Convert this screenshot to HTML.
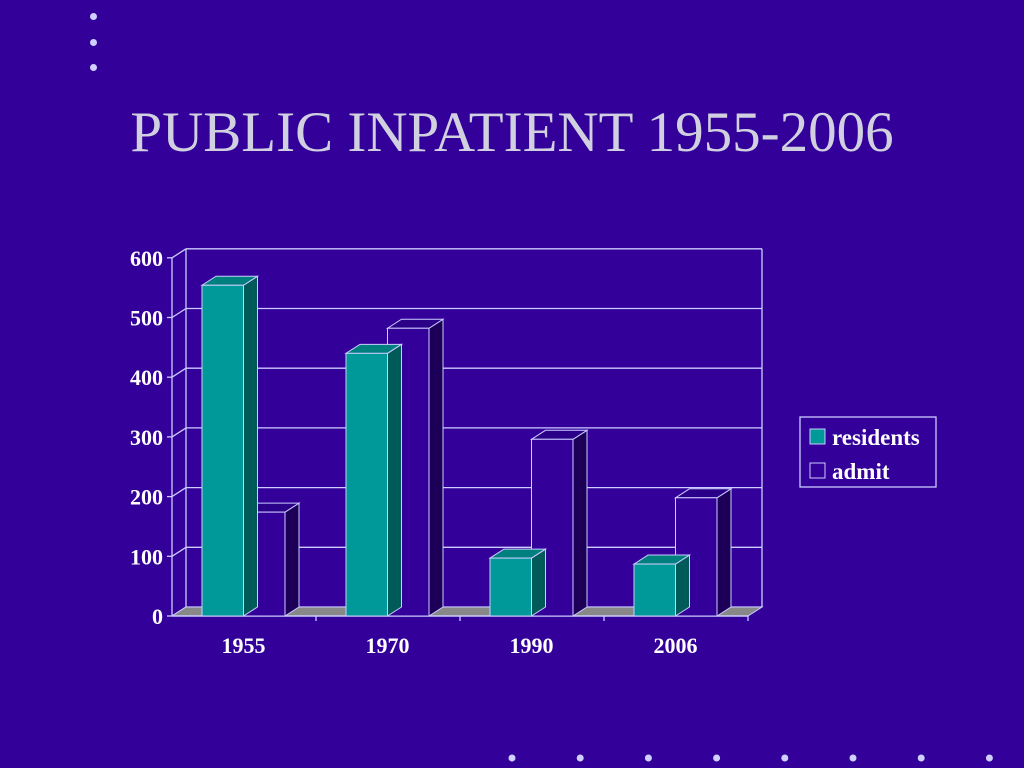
<!DOCTYPE html>
<html><head><meta charset="utf-8">
<style>
html,body{margin:0;padding:0;background:#330099;}
body{width:1024px;height:768px;overflow:hidden;position:relative;font-family:"Liberation Serif",serif;}
#title{position:absolute;left:0;width:1024px;top:100px;text-align:center;font-size:57px;line-height:66px;color:#d0d0e0;}
.dot{position:absolute;width:7px;height:7px;border-radius:50%;background:#d0d0ff;}
</style></head>
<body>
<div class="dot" style="left:90px;top:13px"></div>
<div class="dot" style="left:90px;top:39px"></div>
<div class="dot" style="left:90px;top:64px"></div>
<div id="title">PUBLIC INPATIENT 1955-2006</div>
<svg id="chart" width="1024" height="768" style="position:absolute;left:0;top:0" xmlns="http://www.w3.org/2000/svg"></svg>
<script>
const categories=["1955","1970","1990","2006"];
const residents=[554,440,97,87];
const admit=[174,482,296,198];
const ticks=[0,100,200,300,400,500,600];
const seriesNames=["residents","admit"];

const NS="http://www.w3.org/2000/svg";
const svg=document.getElementById('chart');
const X0=172,X1=748,Y0=616,DX=14,DY=-9,PER=0.597;
function y(v){return Y0-v*PER;}
function catX(i){return X0+30+i*144;}
const BW=41.5;
function el(tag,attrs,parent){const e=document.createElementNS(NS,tag);for(const k in attrs)e.setAttribute(k,attrs[k]);(parent||svg).appendChild(e);return e;}
const line="#ccccff";
ticks.forEach(t=>{
  const g=el('g',{});
  
  
  el('line',{x1:X0+DX,y1:y(t)+DY,x2:X1+DX,y2:y(t)+DY,stroke:line,'stroke-width':1.3},g);
  el('line',{x1:X0,y1:y(t),x2:X0+DX,y2:y(t)+DY,stroke:line,'stroke-width':1.3},g);
  el('line',{x1:X0-5,y1:y(t),x2:X0,y2:y(t),stroke:line,'stroke-width':1.3},g);
  const tx=el('text',{x:X0-9,y:y(t)+8,'text-anchor':'end','font-size':22,'font-weight':'bold',fill:'#fff','font-family':'Liberation Serif, serif'},g);
  tx.textContent=t;
});
el('line',{x1:X0+DX,y1:y(600)+DY,x2:X0+DX,y2:Y0+DY,stroke:line,'stroke-width':1.3});
el('line',{x1:X1+DX,y1:y(600)+DY,x2:X1+DX,y2:Y0+DY,stroke:line,'stroke-width':1.3});
el('line',{x1:X0,y1:y(600),x2:X0,y2:Y0,stroke:line,'stroke-width':1.3});
const fl=el('polygon',{points:`${X0},${Y0} ${X1},${Y0} ${X1+DX},${Y0+DY} ${X0+DX},${Y0+DY}`,fill:'#888888',stroke:line,'stroke-width':1});


el('line',{x1:X0,y1:Y0,x2:X1,y2:Y0,stroke:line,'stroke-width':1.5});
function bar(x,v,face,side,top,name){
  const g=el('g',{});
  
  
  const yt=y(v);
  el('polygon',{points:`${x+BW},${yt} ${x+BW+DX},${yt+DY} ${x+BW+DX},${Y0+DY} ${x+BW},${Y0}`,fill:side,stroke:line,'stroke-width':1},g);
  el('polygon',{points:`${x},${yt} ${x+DX},${yt+DY} ${x+BW+DX},${yt+DY} ${x+BW},${yt}`,fill:top,stroke:line,'stroke-width':1},g);
  el('rect',{x:x,y:yt,width:BW,height:Y0-yt,fill:face,stroke:line,'stroke-width':1},g);
}
categories.forEach((c,i)=>{
  const x=catX(i);
  bar(x+BW,admit[i],'#330099','#1c0058','#2a0088','bar-admit-'+c);
  bar(x,residents[i],'#009999','#005a5a','#007f7f','bar-residents-'+c);
  const tk=el('line',{x1:X0+144*(i+1),y1:Y0,x2:X0+144*(i+1),y2:Y0+5,stroke:line,'stroke-width':1.3});
  
  
  const t=el('text',{x:x+BW,y:653,'text-anchor':'middle','font-size':22,'font-weight':'bold',fill:'#fff','font-family':'Liberation Serif, serif'});
  
  
  t.textContent=c;
});
const lg=el('g',{});


el('rect',{x:800,y:417,width:136,height:70,fill:'none',stroke:line,'stroke-width':1.3},lg);
const legCols=['#009999','#330099'];
seriesNames.forEach((s,i)=>{
  const g=el('g',{},lg);
  
  
  el('rect',{x:810,y:429+i*34,width:15,height:15,fill:legCols[i],stroke:line,'stroke-width':1},g);
  const t=el('text',{x:832,y:445+i*34,'font-size':23,'font-weight':'bold',fill:'#fff','font-family':'Liberation Serif, serif'},g);
  t.textContent=s;
});
for(let i=0;i<8;i++){
  const d=el('circle',{cx:512+i*68.2,cy:758,r:3.5,fill:'#d0d0ff'});
  
  
}
</script>
</body></html>
